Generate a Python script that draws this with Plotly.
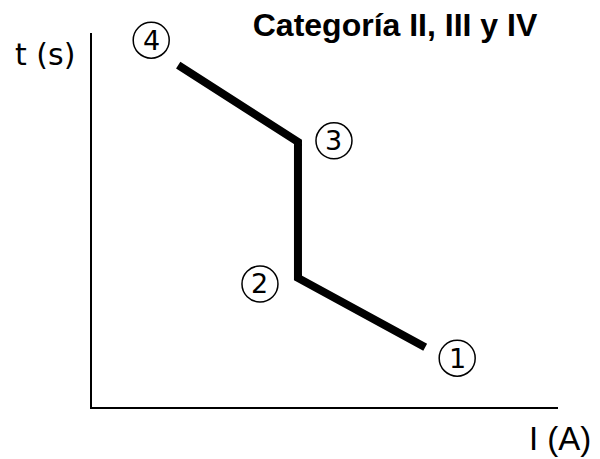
import plotly.graph_objects as go

# Data (arbitrary units)
corriente = [18.5, 44.2, 44.2, 71.5]     # I (A): points 4, 3, 2, 1
tiempo = [91.4, 70.9, 34.5, 16.0]         # t (s)
etiquetas = ["4", "3", "2", "1"]
desplaz_x = [-27, 36, -38, 32]
desplaz_y = [25, 1, -6, -11]

X_RANGE = [0, 100]
Y_RANGE = [0, 100]

# page offset of the figure (browser body margin)
OFF = 8
W, H = 600 - OFF, 459 - OFF
ML, MR, MT, MB = 92 - OFF, 42, 33 - OFF, 52
PW = W - ML - MR
PH = H - MT - MB

fig = go.Figure()
fig.add_trace(go.Scatter(
    x=corriente, y=tiempo, mode="lines",
    line=dict(color="black", width=8),
    hoverinfo="skip", showlegend=False,
))

R = 18
for xv, yv, lab, dx, dy in zip(corriente, tiempo, etiquetas, desplaz_x, desplaz_y):
    # label circle anchored on the data point (paper ref so it is not clipped)
    xa = (xv - X_RANGE[0]) / (X_RANGE[1] - X_RANGE[0])
    ya = (yv - Y_RANGE[0]) / (Y_RANGE[1] - Y_RANGE[0])
    fig.add_shape(type="circle", xref="paper", yref="paper", xsizemode="pixel", ysizemode="pixel",
                  xanchor=xa, yanchor=ya, x0=dx - R, x1=dx + R, y0=dy - R, y1=dy + R,
                  line=dict(color="black", width=1.5))
    fig.add_annotation(x=xv, y=yv, text=lab, showarrow=False,
                       xanchor="center", yanchor="middle",
                       xshift=dx, yshift=dy,
                       font=dict(family="DejaVu Sans", size=27, color="black"))

def px(xp):
    return (xp - 92) / PW

def py(yp):
    return (407 - yp) / PH

fig.add_annotation(xref="paper", yref="paper", x=px(45), y=py(54), text="t (s)", showarrow=False,
                   xanchor="center", yanchor="middle",
                   font=dict(family="DejaVu Sans", size=30, color="black"))
fig.add_annotation(xref="paper", yref="paper", x=px(560), y=py(438), text="I (A)", showarrow=False,
                   xanchor="center", yanchor="middle",
                   font=dict(family="Liberation Sans", size=33, color="black"))

fig.update_layout(
    width=W, height=H,
    margin=dict(l=ML, r=MR, t=MT, b=MB),
    paper_bgcolor="white", plot_bgcolor="white",
    title=dict(text="<b>Categoría II, III y IV</b>", x=(395 - OFF) / W, y=1 - (25 - OFF) / H,
               xanchor="center", yanchor="middle",
               font=dict(family="Liberation Sans", size=32, color="black")),
    xaxis=dict(range=X_RANGE, showgrid=False, zeroline=False, showticklabels=False,
               ticks="", showline=True, linecolor="black", linewidth=2, fixedrange=True),
    yaxis=dict(range=Y_RANGE, showgrid=False, zeroline=False, showticklabels=False,
               ticks="", showline=True, linecolor="black", linewidth=2, fixedrange=True),
)

fig.write_html("out.html")
